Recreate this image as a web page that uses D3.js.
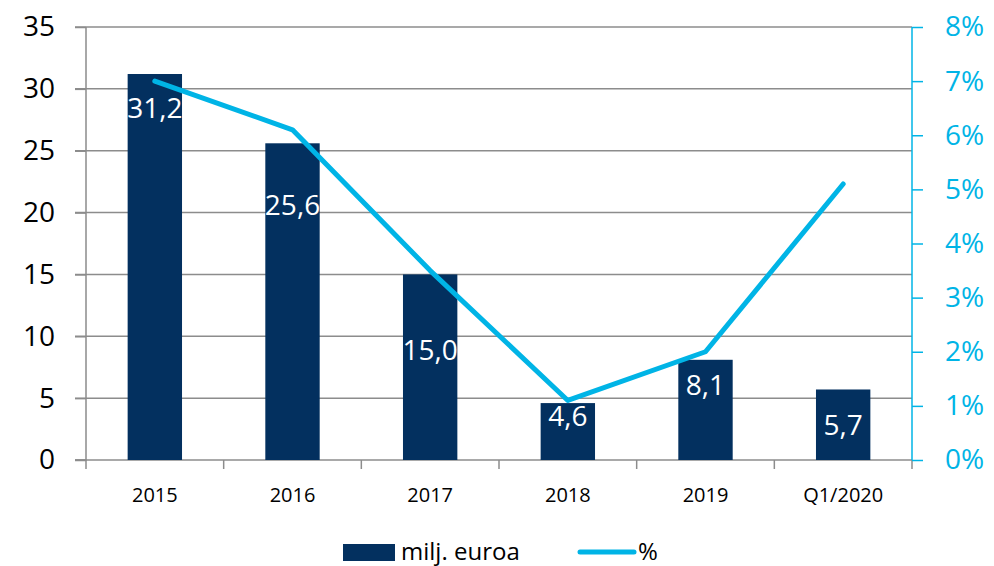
<!DOCTYPE html>
<html><head><meta charset="utf-8">
<script src="https://cdn.jsdelivr.net/npm/d3@7"></script>
<style>body{margin:0;background:#fff}svg{display:block;font-family:"Open Sans","Noto Sans",sans-serif}</style>
</head><body><svg id="c" width="994" height="566"></svg>
<script>
const categories = ["2015","2016","2017","2018","2019","Q1/2020"];
const amounts = [31.2, 25.6, 15.0, 4.6, 8.1, 5.7];
const amountLabels = ["31,2","25,6","15,0","4,6","8,1","5,7"];
const labelAt = [28.45, 20.6, 8.9, 3.55, 6.05, 2.85];
const percents = [7.0, 6.1, 3.5, 1.1, 2.0, 5.1];
const leftTicks = [0,5,10,15,20,25,30,35];
const rightTicks = [0,1,2,3,4,5,6,7,8];
const seriesNames = ["milj. euroa", "%"];

const BAR = "#03305f", LINE = "#00b4e6", GRID = "#8c8c8c";
const svg = d3.select("#c");
const L = 86, R = 912, T = 27, B = 460;
const x = d3.scaleBand().domain(categories).range([L, R]).padding(0);
const yL = d3.scaleLinear().domain([0, 35]).range([B, T]);
const yR = d3.scaleLinear().domain([0, 8]).range([B, T]);

// gridlines
svg.append("g").selectAll("line").data(leftTicks.filter(d=>d>0)).join("line")
  .attr("x1", L - 11).attr("x2", R).attr("y1", d=>yL(d)).attr("y2", d=>yL(d))
  .attr("stroke", GRID).attr("stroke-width", 1.5);

// left axis
const ax = d3.axisLeft(yL).tickValues(leftTicks).tickSize(11).tickPadding(20).tickFormat(d=>d);
const gL = svg.append("g").attr("transform", `translate(${L},0)`).call(ax)
  .attr("font-family", null).attr("font-size", null);
gL.selectAll("path,line").attr("stroke", GRID).attr("stroke-width", 1.5);
gL.select(".domain").attr("d", `M-11,${B}H0V${T}`);
gL.selectAll("text").attr("font-size", 28).attr("fill", "#000");

// bottom axis
const gB = svg.append("g").attr("transform", `translate(0,${B})`);
gB.append("line").attr("x1", L-11).attr("x2", R).attr("stroke", GRID).attr("stroke-width", 1.5);
const bounds = categories.map(c => x(c)).concat([R]);
gB.selectAll("line.t").data(bounds).join("line").attr("class","t")
  .attr("x1", d=>d).attr("x2", d=>d).attr("y1", 0).attr("y2", 9)
  .attr("stroke", GRID).attr("stroke-width", 1.5);
gB.selectAll("text").data(categories).join("text")
  .attr("x", d => x(d) + x.bandwidth()/2).attr("y", 35).attr("dy", "0.35em")
  .attr("text-anchor", "middle").attr("font-size", 20).attr("fill", "#000").text(d=>d);

// right axis
const ar = d3.axisRight(yR).tickValues(rightTicks).tickSize(11).tickPadding(22).tickFormat(d=>d+"%");
const gR = svg.append("g").attr("transform", `translate(${R},0)`).call(ar)
  .attr("font-family", null).attr("font-size", null);
gR.selectAll("path,line").attr("stroke", LINE).attr("stroke-width", 1.5);
gR.select(".domain").attr("d", `M0,${T}V${B}`);
gR.selectAll("text").attr("font-size", 28).attr("fill", LINE);

// bars
const bw = x.bandwidth() * 0.395;
const idx = categories.map((c,i)=>i);
svg.append("g").selectAll("rect").data(idx).join("rect")
  .attr("x", i => x(categories[i]) + x.bandwidth()/2 - bw/2)
  .attr("width", bw)
  .attr("y", i => yL(amounts[i]))
  .attr("height", i => B - yL(amounts[i]))
  .attr("fill", BAR);

// line
const line = d3.line().x(i => x(categories[i]) + x.bandwidth()/2).y(i => yR(percents[i]));
svg.append("path").datum(idx).attr("d", line).attr("fill", "none")
  .attr("stroke", LINE).attr("stroke-width", 5).attr("stroke-linecap", "round").attr("stroke-linejoin","round");

// data labels
svg.append("g").selectAll("text").data(idx).join("text")
  .attr("x", i => x(categories[i]) + x.bandwidth()/2)
  .attr("y", i => yL(labelAt[i]))
  .attr("dy", "0.35em")
  .attr("text-anchor", "middle").attr("font-size", 28).attr("fill", "#fff")
  .text(i => amountLabels[i]);

// legend
const lg = svg.append("g");
lg.append("rect").attr("x", 343).attr("y", 544).attr("width", 52).attr("height", 17).attr("fill", BAR);
lg.append("text").attr("x", 401).attr("y", 552).attr("dy","0.35em").attr("font-size", 24).text(seriesNames[0]);
lg.append("line").attr("x1", 580).attr("x2", 634).attr("y1", 552).attr("y2", 552)
  .attr("stroke", LINE).attr("stroke-width", 5).attr("stroke-linecap","round");
lg.append("text").attr("x", 638).attr("y", 552).attr("dy","0.35em").attr("font-size", 24).text(seriesNames[1]);
</script></body></html>
